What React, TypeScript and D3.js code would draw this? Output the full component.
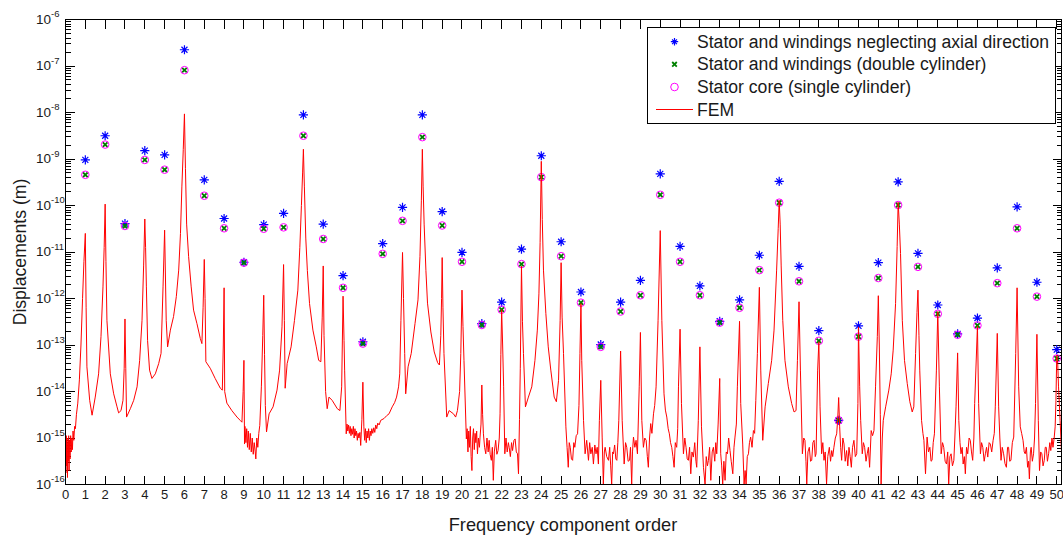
import React from "react";
import * as d3 from "d3";

// Frequency component orders (x categories)
const orders = [1,2,3,4,5,6,7,8,9,10,11,12,13,14,15,16,17,18,19,20,21,22,23,24,25,26,27,28,29,30,31,32,33,34,35,36,37,38,39,40,41,42,43,44,45,46,47,48,49,50];

// log10 of displacement (m): stator and windings neglecting axial direction (blue *)
const neglectAxialLog10 = [-9.02,-8.50,-10.39,-8.82,-8.91,-6.65,-9.45,-10.28,-11.22,-10.41,-10.17,-8.05,-10.40,-11.51,-12.93,-10.82,-10.04,-8.05,-10.13,-11.01,-12.54,-12.08,-10.94,-8.93,-10.78,-11.86,-12.99,-12.08,-11.61,-9.32,-10.88,-11.73,-12.49,-12.03,-11.07,-9.48,-11.31,-12.69,-14.62,-12.59,-11.23,-9.49,-11.03,-12.14,-12.76,-12.42,-11.34,-10.03,-11.65,-13.10];

// log10 of displacement (m): stator and windings (double cylinder) (green x)
const doubleCylLog10 = [-9.34,-8.69,-10.44,-9.02,-9.23,-7.09,-9.79,-10.49,-11.23,-10.50,-10.47,-8.50,-10.72,-11.77,-12.97,-11.04,-10.33,-8.53,-10.43,-11.21,-12.57,-12.24,-11.26,-9.39,-11.09,-12.09,-13.04,-12.28,-11.93,-9.77,-11.21,-11.93,-12.52,-12.20,-11.39,-9.94,-11.63,-12.91,-14.62,-12.82,-11.56,-9.99,-11.32,-12.33,-12.78,-12.58,-11.67,-10.49,-11.96,-13.29];

// log10 of displacement (m): stator core (single cylinder) (magenta o)
const singleCylLog10 = [-9.34,-8.69,-10.44,-9.02,-9.23,-7.09,-9.79,-10.49,-11.23,-10.50,-10.47,-8.50,-10.72,-11.77,-12.97,-11.04,-10.33,-8.53,-10.43,-11.21,-12.57,-12.24,-11.26,-9.39,-11.09,-12.09,-13.04,-12.28,-11.93,-9.77,-11.21,-11.93,-12.52,-12.20,-11.39,-9.94,-11.63,-12.91,-14.62,-12.82,-11.56,-9.99,-11.32,-12.33,-12.78,-12.58,-11.67,-10.49,-11.96,-13.29];

// FEM spectrum: [order, log10 displacement]
const femPoints: [number, number][] = [
[0.00,-15.2],[0.02,-15.75],[0.04,-14.95],[0.06,-15.6],[0.08,-15.0],[0.10,-15.85],[0.12,-15.1],[0.14,-15.5],[0.16,-14.95],[0.18,-15.7],[0.20,-15.05],[0.23,-15.45],[0.26,-14.95],[0.29,-15.3],[0.32,-15.0],[0.35,-15.25],[0.38,-14.85],[0.42,-15.05],[0.46,-14.75],[0.50,-14.8],[0.55,-14.5],[0.62,-14.25],[0.70,-13.75],[0.78,-13.0],[0.86,-12.0],[0.93,-11.2],[1.00,-10.60],
[1.04,-12.2],[1.08,-13.47],[1.22,-14.19],[1.34,-14.51],[1.50,-14.12],[1.67,-13.62],[1.79,-12.82],[1.89,-11.75],[1.95,-10.9],[2.00,-9.97],
[2.04,-11.2],[2.09,-12.47],[2.26,-13.62],[2.43,-14.05],[2.60,-14.33],[2.68,-14.46],[2.80,-14.41],[2.90,-14.19],[2.96,-13.5],[3.00,-12.44],[3.04,-13.5],[3.08,-14.55],[3.27,-14.37],[3.44,-14.19],[3.61,-13.90],[3.74,-13.33],[3.86,-12.47],[3.94,-11.3],[4.00,-10.29],
[4.04,-10.9],[4.08,-11.75],[4.14,-12.90],[4.24,-13.54],[4.36,-13.72],[4.53,-13.62],[4.70,-13.40],[4.82,-13.18],[4.92,-11.75],[5.00,-10.53],[5.08,-12.47],[5.15,-13.04],[5.29,-12.68],[5.45,-12.39],[5.59,-11.96],[5.71,-11.39],[5.80,-10.6],[5.87,-9.6],[5.94,-8.8],[6.00,-8.03],
[6.05,-9.2],[6.11,-10.4],[6.21,-11.10],[6.34,-11.75],[6.46,-12.25],[6.63,-12.54],[6.80,-12.86],[6.88,-12.97],[6.94,-12.2],[7.00,-11.16],[7.04,-12.0],[7.08,-13.36],[7.30,-13.50],[7.55,-13.72],[7.81,-13.93],[7.91,-13.97],[7.96,-13.0],[8.00,-11.77],[8.03,-14.0],[8.14,-14.25],[8.39,-14.41],[8.65,-14.55],[8.81,-14.62],[8.90,-14.66],[8.96,-14.0],[9.00,-13.33],[9.03,-15.13],
[9.05,-14.75],[9.10,-15.1],[9.14,-14.8],[9.18,-15.2],[9.22,-14.85],[9.27,-15.25],[9.32,-14.9],[9.37,-15.3],[9.42,-15.0],[9.47,-15.35],[9.52,-15.1],[9.57,-15.3],[9.60,-15.45],[9.65,-15.0],[9.70,-15.2],[9.75,-14.9],[9.80,-14.73],[9.88,-13.9],[9.95,-12.8],[10.00,-11.93],[10.04,-13.2],[10.08,-14.3],[10.14,-14.87],[10.27,-14.48],[10.47,-14.33],[10.67,-13.97],[10.80,-13.54],[10.92,-12.61],[11.00,-11.27],[11.04,-12.47],[11.08,-13.93],[11.18,-13.40],[11.38,-13.04],[11.55,-12.47],[11.72,-11.82],[11.82,-10.9],[11.90,-10.0],[11.96,-9.3],[12.00,-8.79],[12.05,-9.6],[12.12,-10.7],[12.20,-11.4],[12.31,-12.11],[12.48,-12.68],[12.65,-13.04],[12.77,-13.33],[12.88,-13.36],[12.95,-12.4],[13.00,-11.30],[13.04,-12.8],[13.12,-14.0],[13.20,-14.37],[13.29,-14.12],[13.45,-14.19],[13.71,-14.37],[13.84,-14.41],[13.93,-13.90],[14.00,-11.95],[14.05,-12.9],[14.08,-13.54],[14.16,-14.91],
[14.20,-14.7],[14.24,-14.85],[14.28,-14.72],[14.32,-14.9],[14.36,-14.75],[14.40,-14.95],[14.44,-14.8],[14.48,-14.92],[14.52,-14.75],[14.56,-15.0],[14.60,-14.8],[14.64,-14.95],[14.68,-14.85],[14.72,-15.05],[14.76,-14.9],[14.80,-15.0],[14.85,-14.88],[14.89,-15.16],[14.95,-14.6],[15.00,-13.80],[15.05,-14.76],[15.09,-15.05],[15.13,-14.8],[15.17,-15.1],[15.21,-14.85],[15.25,-15.0],[15.29,-14.8],[15.33,-15.05],[15.37,-14.85],[15.41,-14.95],[15.45,-14.8],[15.50,-14.9],[15.55,-14.78],[15.60,-14.88],[15.65,-14.72],[15.70,-14.8],[15.75,-14.68],[15.82,-14.72],[15.90,-14.62],[16.07,-14.58],[16.20,-14.52],[16.32,-14.48],[16.48,-14.33],[16.60,-14.24],[16.70,-14.12],[16.80,-13.9],[16.86,-13.62],[16.92,-12.47],[17.00,-11.01],[17.05,-12.0],[17.11,-13.18],[17.16,-14.05],[17.28,-13.47],[17.44,-13.18],[17.63,-12.54],[17.78,-12.03],[17.88,-11.1],[17.95,-9.9],[18.00,-8.79],[18.04,-9.6],[18.09,-10.4],[18.18,-11.4],[18.26,-12.1],[18.43,-12.72],[18.60,-13.15],[18.77,-13.38],[18.86,-13.43],[18.93,-12.8],[18.97,-12.0],[19.00,-11.12],[19.04,-12.2],[19.09,-13.18],[19.23,-14.55],[19.35,-14.41],[19.57,-14.48],[19.68,-14.55],[19.77,-14.41],[19.88,-14.0],[19.94,-13.18],[20.00,-11.82],[20.05,-12.6],[20.10,-13.33],[20.22,-15.02],
[20.26,-14.8],[20.30,-15.3],[20.34,-14.85],[20.38,-15.2],[20.42,-14.75],[20.46,-15.4],[20.50,-15.70],[20.54,-15.0],[20.58,-14.80],[20.62,-15.25],[20.66,-14.9],[20.70,-15.1],[20.74,-14.85],[20.78,-15.34],[20.83,-15.0],[20.88,-15.2],[20.91,-14.98],[20.96,-14.7],[21.00,-13.86],[21.04,-14.5],[21.08,-14.91],[21.14,-15.2],[21.20,-15.34],[21.26,-15.0],[21.32,-15.3],[21.37,-15.05],[21.42,-15.35],[21.48,-15.48],[21.53,-15.2],[21.58,-15.91],[21.63,-15.3],[21.70,-15.05],[21.76,-15.35],[21.82,-15.27],[21.88,-15.0],[21.92,-14.48],[21.96,-13.2],[22.00,-12.24],[22.05,-13.0],[22.10,-13.9],[22.16,-15.34],[22.22,-15.0],[22.28,-15.3],[22.34,-15.1],[22.38,-15.20],[22.44,-15.4],[22.50,-15.1],[22.55,-15.27],[22.62,-15.05],[22.68,-15.02],[22.74,-15.3],[22.80,-15.34],[22.85,-15.77],[22.90,-14.6],[22.94,-13.5],[23.00,-11.30],[23.05,-12.5],[23.10,-13.18],[23.20,-14.33],[23.35,-14.12],[23.52,-13.90],[23.68,-13.33],[23.80,-12.68],[23.88,-11.9],[23.94,-10.8],[24.00,-9.05],[24.05,-10.3],[24.11,-11.39],[24.23,-12.32],[24.35,-13.04],[24.48,-13.54],[24.65,-14.12],[24.76,-14.22],[24.87,-13.76],[24.95,-12.47],[25.00,-11.23],[25.05,-12.4],[25.12,-13.18],[25.24,-14.76],[25.30,-15.2],[25.36,-15.63],[25.41,-15.1],[25.46,-15.20],[25.52,-15.45],[25.58,-15.48],[25.64,-15.1],[25.69,-15.20],[25.76,-14.95],[25.83,-14.91],[25.90,-14.3],[25.95,-13.18],[26.00,-12.11],[26.04,-13.33],[26.13,-14.62],[26.21,-15.34],[26.29,-15.05],[26.38,-15.48],[26.44,-15.1],[26.50,-15.34],[26.57,-15.2],[26.63,-15.56],[26.70,-15.15],[26.76,-15.34],[26.82,-15.2],[26.88,-15.56],[26.93,-14.62],[27.00,-13.76],[27.07,-14.98],[27.13,-15.99],[27.18,-15.3],[27.22,-15.20],[27.30,-15.4],[27.39,-15.48],[27.45,-15.2],[27.50,-15.6],[27.55,-16.0],[27.60,-15.3],[27.64,-15.34],[27.70,-15.15],[27.76,-15.45],[27.81,-15.48],[27.86,-15.1],[27.91,-14.62],[28.00,-13.13],[28.08,-14.62],[28.18,-15.56],[28.25,-15.1],[28.31,-15.20],[28.38,-15.5],[28.45,-15.48],[28.50,-15.2],[28.56,-16.0],[28.60,-15.3],[28.65,-14.98],[28.72,-15.2],[28.78,-15.05],[28.85,-15.34],[28.94,-13.90],[29.00,-12.73],[29.07,-14.62],[29.15,-15.20],[29.22,-15.0],[29.29,-15.05],[29.35,-15.4],[29.40,-15.63],[29.46,-15.0],[29.52,-14.69],[29.58,-14.9],[29.66,-14.48],[29.72,-14.3],[29.79,-13.90],[29.89,-12.47],[30.00,-10.54],[30.08,-12.47],[30.19,-14.05],[30.26,-14.4],[30.33,-14.55],[30.40,-14.8],[30.46,-14.91],[30.52,-15.1],[30.58,-15.20],[30.64,-15.4],[30.70,-15.63],[30.76,-15.1],[30.83,-15.20],[30.88,-14.8],[30.92,-13.90],[31.00,-12.66],[31.07,-14.26],[31.17,-15.34],[31.24,-15.0],[31.30,-15.20],[31.36,-15.45],[31.42,-15.48],[31.48,-15.2],[31.54,-15.77],[31.60,-15.3],[31.67,-15.41],[31.74,-15.1],[31.80,-15.5],[31.84,-15.63],[31.92,-14.62],[32.00,-13.04],[32.08,-14.76],[32.18,-15.63],[32.26,-16.0],[32.32,-15.4],[32.38,-15.6],[32.43,-15.48],[32.49,-15.2],[32.55,-15.91],[32.62,-15.3],[32.68,-15.20],[32.75,-15.5],[32.80,-15.1],[32.85,-15.34],[32.92,-14.7],[33.00,-13.72],[33.05,-15.34],[33.10,-15.6],[33.15,-16.0],[33.21,-15.5],[33.27,-15.91],[33.33,-15.3],[33.39,-15.34],[33.45,-15.0],[33.52,-15.27],[33.58,-15.5],[33.66,-15.77],[33.72,-15.2],[33.77,-14.98],[33.84,-14.7],[33.89,-13.90],[34.00,-12.49],[34.06,-14.26],[34.16,-15.13],[34.23,-16.0],[34.28,-15.7],[34.33,-15.99],[34.39,-15.4],[34.45,-15.34],[34.50,-15.1],[34.56,-14.98],[34.63,-15.2],[34.70,-14.84],[34.76,-14.9],[34.82,-14.19],[34.90,-13.18],[35.00,-11.76],[35.07,-13.54],[35.17,-15.05],[35.29,-14.33],[35.45,-13.83],[35.62,-13.33],[35.74,-12.68],[35.87,-11.39],[35.95,-10.5],[36.00,-9.89],[36.05,-10.4],[36.10,-11.3],[36.18,-12.47],[36.29,-13.33],[36.46,-13.90],[36.63,-14.26],[36.75,-14.44],[36.85,-14.41],[36.92,-13.33],[37.00,-12.07],[37.07,-13.54],[37.17,-15.34],[37.24,-15.0],[37.30,-15.05],[37.35,-15.5],[37.39,-15.99],[37.45,-15.3],[37.52,-15.20],[37.58,-15.5],[37.64,-15.48],[37.70,-15.1],[37.76,-15.05],[37.82,-15.4],[37.86,-15.34],[37.94,-13.54],[38.00,-12.93],[38.06,-14.33],[38.14,-15.34],[38.20,-15.1],[38.26,-15.48],[38.32,-15.3],[38.39,-15.99],[38.45,-15.4],[38.53,-15.20],[38.59,-15.5],[38.65,-15.27],[38.70,-15.4],[38.76,-15.20],[38.83,-15.0],[38.90,-14.91],[38.95,-14.6],[39.00,-14.13],[39.05,-14.76],[39.10,-15.2],[39.15,-15.48],[39.21,-15.0],[39.27,-15.13],[39.33,-15.5],[39.40,-15.27],[39.46,-15.6],[39.52,-15.20],[39.58,-15.4],[39.64,-15.63],[39.70,-15.2],[39.77,-15.05],[39.84,-15.4],[39.91,-15.34],[39.97,-14.26],[40.00,-12.61],[40.06,-13.9],[40.11,-14.62],[40.19,-15.34],[40.25,-15.1],[40.31,-15.20],[40.38,-15.5],[40.44,-15.34],[40.50,-15.2],[40.56,-15.63],[40.64,-14.84],[40.71,-14.95],[40.78,-14.84],[40.86,-13.90],[40.95,-12.82],[41.00,-11.94],[41.05,-13.0],[41.10,-14.5],[41.14,-16.0],[41.20,-15.0],[41.25,-14.62],[41.37,-14.33],[41.53,-13.97],[41.65,-13.62],[41.75,-13.11],[41.87,-12.11],[41.95,-10.88],[42.00,-9.93],[42.06,-10.4],[42.12,-11.03],[42.21,-12.47],[42.32,-13.33],[42.46,-13.83],[42.59,-14.22],[42.71,-14.44],[42.79,-14.33],[42.88,-13.18],[42.95,-12.3],[43.00,-11.82],[43.05,-12.8],[43.09,-13.54],[43.18,-14.62],[43.25,-14.9],[43.30,-15.05],[43.38,-15.77],[43.46,-14.98],[43.53,-15.3],[43.60,-15.20],[43.66,-15.5],[43.71,-15.48],[43.77,-15.1],[43.83,-14.91],[43.93,-13.54],[44.00,-12.28],[44.08,-13.90],[44.17,-15.34],[44.24,-15.1],[44.30,-15.20],[44.37,-15.5],[44.44,-15.56],[44.50,-15.3],[44.55,-15.99],[44.61,-15.4],[44.67,-15.34],[44.74,-15.6],[44.81,-15.48],[44.86,-15.0],[44.92,-14.33],[45.00,-13.17],[45.06,-14.62],[45.12,-15.1],[45.17,-15.34],[45.23,-15.2],[45.28,-15.56],[45.34,-15.4],[45.39,-15.77],[45.45,-15.2],[45.51,-15.34],[45.58,-15.0],[45.64,-15.05],[45.70,-15.3],[45.76,-15.48],[45.82,-15.0],[45.86,-14.26],[46.00,-12.59],[46.06,-14.26],[46.15,-15.34],[46.21,-15.1],[46.27,-15.20],[46.34,-15.5],[46.40,-15.34],[46.46,-15.2],[46.52,-15.41],[46.59,-15.1],[46.65,-15.13],[46.72,-15.3],[46.79,-15.05],[46.85,-14.9],[46.90,-14.33],[47.00,-12.75],[47.07,-14.33],[47.13,-15.0],[47.19,-15.48],[47.25,-15.2],[47.32,-15.34],[47.39,-15.55],[47.46,-15.63],[47.52,-15.2],[47.57,-15.20],[47.63,-15.5],[47.69,-15.48],[47.76,-15.1],[47.83,-14.98],[47.93,-13.18],[48.00,-11.77],[48.08,-13.90],[48.16,-14.76],[48.23,-14.9],[48.30,-15.05],[48.36,-15.3],[48.41,-15.34],[48.47,-15.2],[48.53,-15.63],[48.58,-15.5],[48.62,-15.88],[48.67,-15.3],[48.71,-15.20],[48.77,-15.5],[48.83,-15.34],[48.88,-15.0],[48.93,-14.26],[49.00,-12.77],[49.07,-14.62],[49.13,-15.70],[49.19,-15.3],[49.25,-15.34],[49.31,-15.6],[49.37,-15.48],[49.42,-15.2],[49.47,-15.20],[49.53,-15.5],[49.59,-15.34],[49.65,-15.1],[49.70,-15.27],[49.76,-15.0],[49.81,-15.20],[49.87,-15.0],[49.92,-14.76],[49.96,-14.2],[50.00,-13.22],[50.05,-13.4],[50.09,-13.90],[50.17,-14.62],[50.25,-15.4]
];

// Axis tick labels
const xTickLabels = ["0","1","2","3","4","5","6","7","8","9","10","11","12","13","14","15","16","17","18","19","20","21","22","23","24","25","26","27","28","29","30","31","32","33","34","35","36","37","38","39","40","41","42","43","44","45","46","47","48","49","50"];
const yTickExponents = [-16,-15,-14,-13,-12,-11,-10,-9,-8,-7,-6];

const legendLabels = [
  "Stator and windings neglecting axial direction",
  "Stator and windings (double cylinder)",
  "Stator core (single cylinder)",
  "FEM",
];

const FONT = "'Liberation Sans', Arial, Helvetica, sans-serif";
const L = 65.5, R = 1061.5, T = 19.5, B = 484.5;

function Star({ cx, cy, s = 1 }: { cx: number; cy: number; s?: number }) {
  const a = 4.6 * s, d = 3.0 * s;
  return (
    <path
      d={`M${cx - a},${cy}H${cx + a}M${cx},${cy - a}V${cy + a}M${cx - d},${cy - d}L${cx + d},${cy + d}M${cx - d},${cy + d}L${cx + d},${cy - d}`}
      stroke="#0000ff" strokeWidth={1.2} fill="none"
    />
  );
}
function XMark({ cx, cy }: { cx: number; cy: number }) {
  const a = 2.3;
  return (
    <path
      d={`M${cx - a},${cy - a}L${cx + a},${cy + a}M${cx - a},${cy + a}L${cx + a},${cy - a}`}
      stroke="#008000" strokeWidth={1.8} fill="none"
    />
  );
}

export default function App() {
  const x = d3.scaleLinear().domain([0, 50.24]).range([L, R]);
  const y = d3.scaleLog().domain([1e-16, 1e-6]).range([B, T]);
  const yl = (v: number) => y(Math.pow(10, Math.max(v, -16.3)));
  const line = d3
    .line<[number, number]>()
    .x((d) => x(d[0]))
    .y((d) => yl(d[1]));

  const xTicks = xTickLabels.map((t) => +t);
  const minorTicks: number[] = [];
  yTickExponents.slice(0, -1).forEach((e) => {
    [2, 3, 4, 5, 6, 7, 8, 9].forEach((m) => minorTicks.push(m * Math.pow(10, e)));
  });

  const legX = 647.5, legY = 27.5, legW = 408, legH = 96;
  const rowY = [41.7, 64.3, 87.0, 109.5];
  const mX = 674.5;

  return (
    <svg
      width={1063}
      height={538}
      style={{ position: "absolute", left: 0, top: 0, background: "#fff" }}
      fontFamily={FONT}
    >
      <defs>
        <clipPath id="plotclip">
          <rect x={L} y={T} width={R - L} height={B - T} />
        </clipPath>
      </defs>
      <rect x={0} y={0} width={1063} height={538} fill="#fff" />

      {/* ticks */}
      <g stroke="#000" strokeWidth={1} shapeRendering="crispEdges">
        {xTicks.map((t) => (
          <g key={"xt" + t}>
            <line x1={x(t)} x2={x(t)} y1={B} y2={B - 9} />
            <line x1={x(t)} x2={x(t)} y1={T} y2={T + 9} />
          </g>
        ))}
        {yTickExponents.map((e) => (
          <g key={"yt" + e}>
            <line x1={L} x2={L + 9} y1={y(Math.pow(10, e))} y2={y(Math.pow(10, e))} />
            <line x1={R} x2={R - 9} y1={y(Math.pow(10, e))} y2={y(Math.pow(10, e))} />
          </g>
        ))}
        {minorTicks.map((v, i) => (
          <g key={"mt" + i}>
            <line x1={L} x2={L + 5} y1={y(v)} y2={y(v)} />
            <line x1={R} x2={R - 5} y1={y(v)} y2={y(v)} />
          </g>
        ))}
      </g>

      {/* markers */}
      <g>
        {orders.map((o, i) => (
          <Star key={"s" + o} cx={x(o)} cy={yl(neglectAxialLog10[i])} />
        ))}
        {orders.map((o, i) => (
          <XMark key={"x" + o} cx={x(o)} cy={yl(doubleCylLog10[i])} />
        ))}
        {orders.map((o, i) => (
          <circle key={"c" + o} cx={x(o)} cy={yl(singleCylLog10[i])} r={3.8} fill="none" stroke="#ff00ff" strokeWidth={1} />
        ))}
      </g>

      {/* FEM */}
      <path d={line(femPoints) || ""} fill="none" stroke="#ff0000" strokeWidth={1} clipPath="url(#plotclip)" strokeLinejoin="round" />

      {/* axes box */}
      <rect x={L} y={T} width={R - L} height={B - T} fill="none" stroke="#000" strokeWidth={1} shapeRendering="crispEdges" />

      {/* x tick labels */}
      <g fontSize={13} fill="#1a1a1a" textAnchor="middle">
        {xTickLabels.map((t) => (
          <text key={"xl" + t} x={x(+t)} y={499}>{t}</text>
        ))}
      </g>
      {/* y tick labels */}
      <g fill="#1a1a1a">
        {yTickExponents.map((e) => (
          <text key={"yl" + e} x={36} y={y(Math.pow(10, e)) + 4} fontSize={13.5}>
            10<tspan dy={-6.5} fontSize={9.5}>{String(e)}</tspan>
          </text>
        ))}
      </g>

      {/* axis titles */}
      <text x={563} y={531} fontSize={18.2} textAnchor="middle" fill="#1a1a1a">Frequency component order</text>
      <text transform={`translate(26,252) rotate(-90)`} fontSize={17.6} textAnchor="middle" fill="#1a1a1a">Displacements (m)</text>

      {/* legend */}
      <rect x={legX} y={legY} width={legW} height={legH} fill="#fff" stroke="#000" strokeWidth={1} shapeRendering="crispEdges" />
      <Star cx={mX} cy={rowY[0]} s={0.8} />
      <XMark cx={mX} cy={rowY[1]} />
      <circle cx={mX} cy={rowY[2]} r={3.8} fill="none" stroke="#ff00ff" strokeWidth={1} />
      <line x1={656} x2={693} y1={rowY[3]} y2={rowY[3]} stroke="#ff0000" strokeWidth={1} />
      {legendLabels.map((t, i) => (
        <text key={t} x={697} y={rowY[i] + 6} fontSize={17.6} fill="#1a1a1a">{t}</text>
      ))}
    </svg>
  );
}
